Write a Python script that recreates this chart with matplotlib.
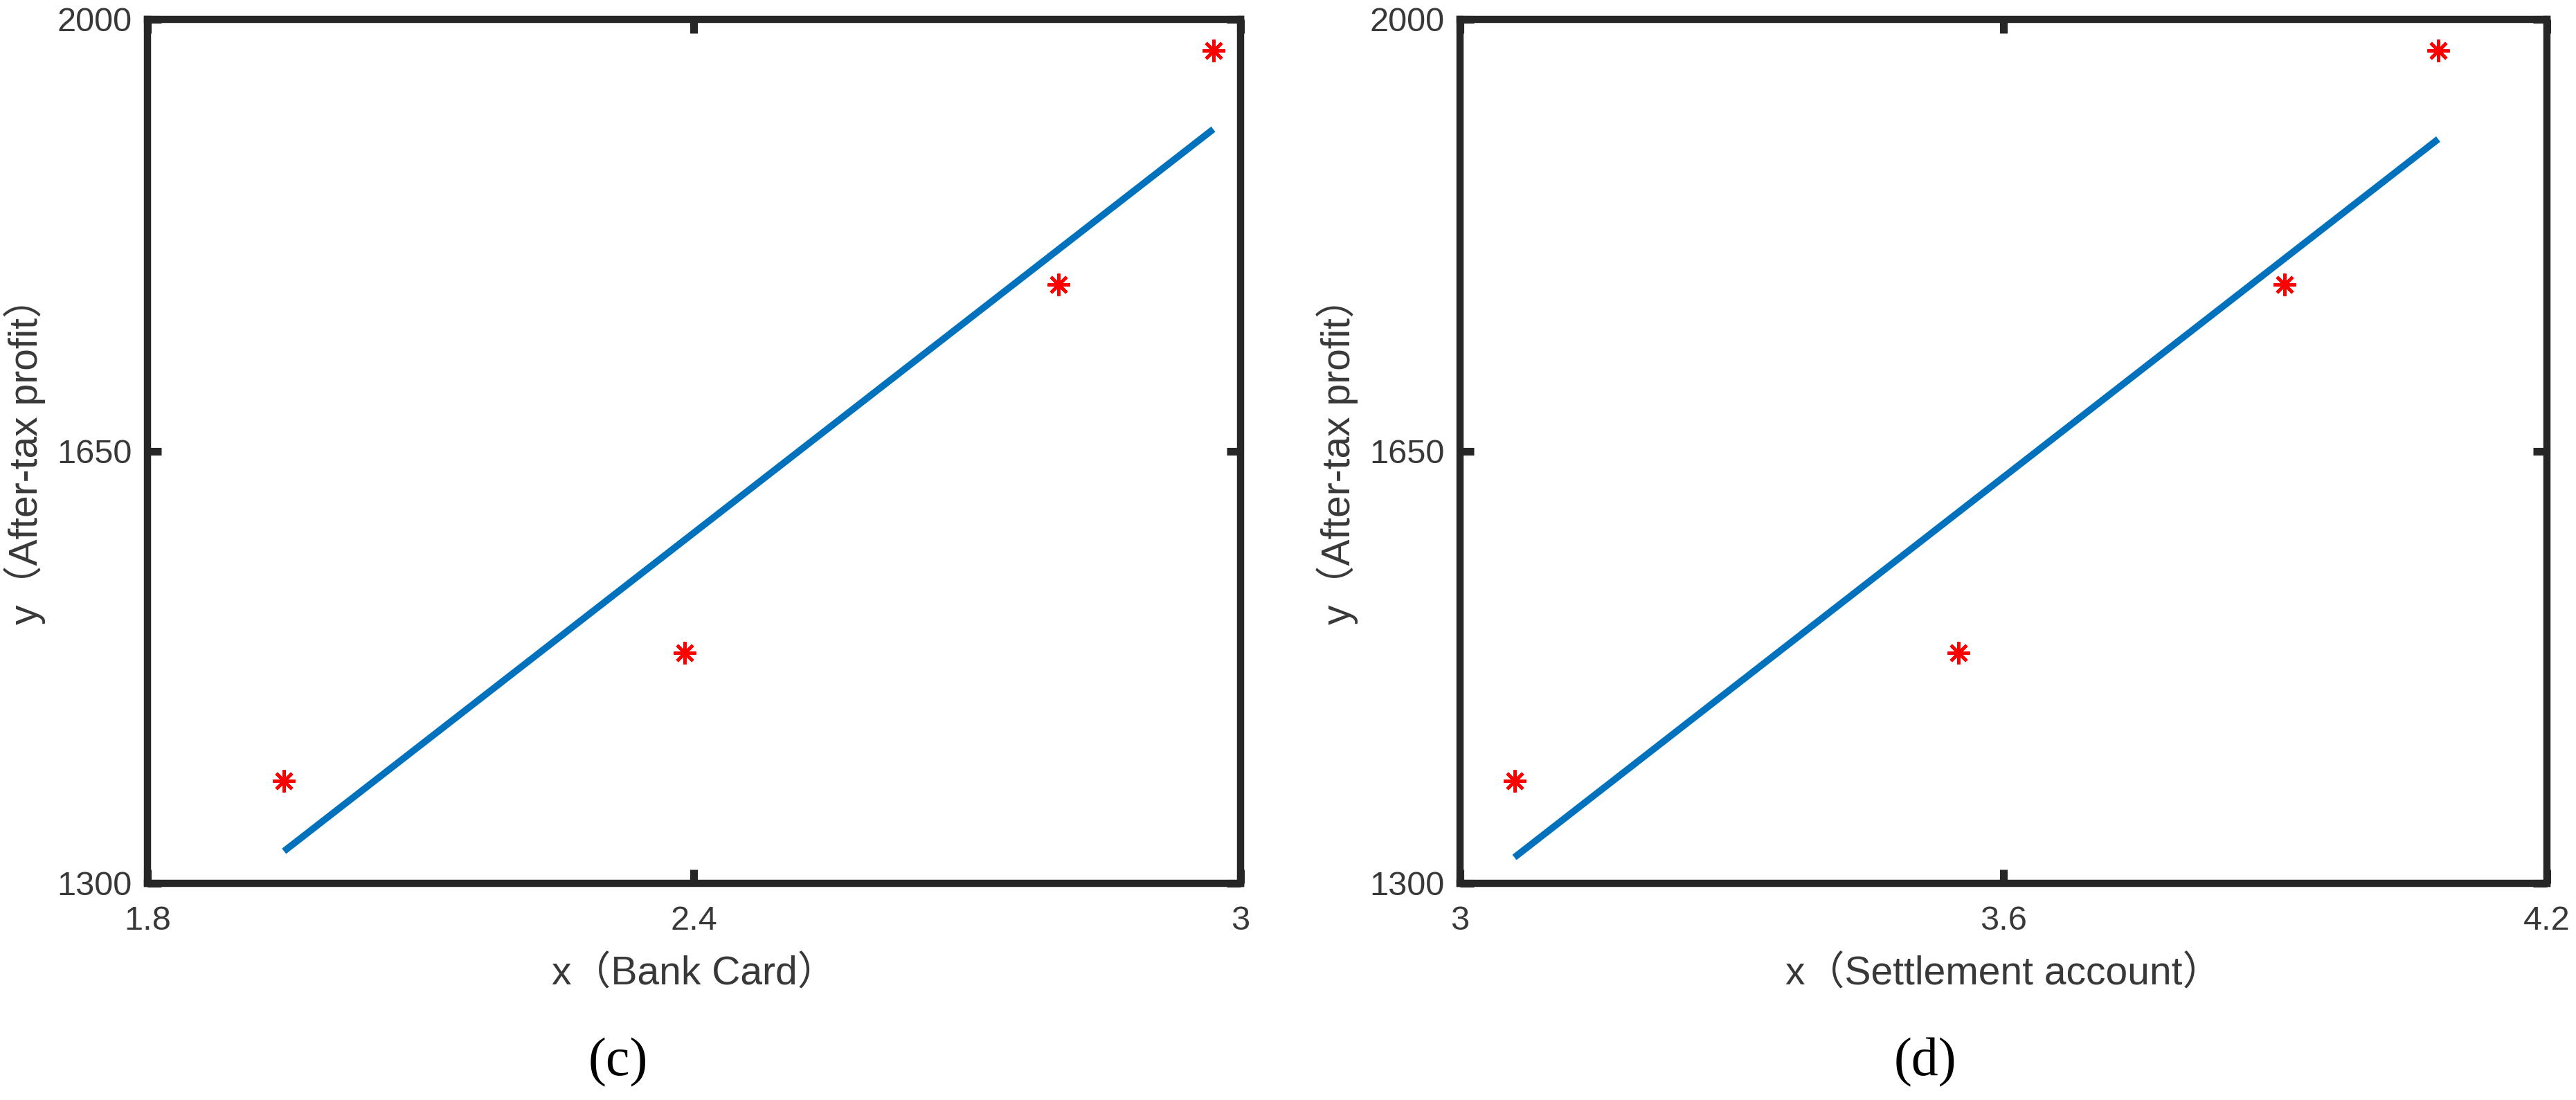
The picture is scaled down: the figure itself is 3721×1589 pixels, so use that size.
import matplotlib
matplotlib.use("Agg")
import matplotlib.pyplot as plt

# Data
bank_card_x = [1.95, 2.39, 2.80, 2.97]
settlement_x = [3.06, 3.55, 3.91, 4.08]
profit_y = [1383, 1487, 1785, 1975]

# fitted line end points (as drawn in the figure)
bank_fit_y = [1326, 1911]
settle_fit_y = [1321, 1903]

bank_xticks = [1.8, 2.4, 3]
bank_xticklabels = ["1.8", "2.4", "3"]
settle_xticks = [3.0, 3.6, 4.2]
settle_xticklabels = ["3", "3.6", "4.2"]
yticks = [1300, 1650, 2000]

panel_xlabels = ["x（Bank Card）", "x（Settlement account）"]
ylabel = "y（After-tax profit）"
panel_tags = ["(c)", "(d)"]

sans = ["Liberation Sans", "Noto Sans CJK SC"]
axis_col = "#262626"
text_col = "#383838"

fig = plt.figure(figsize=(37.21, 15.89), dpi=100)

ax_pos = [[0.0572, 0.1970, 0.4244, 0.7854],
          [0.5668, 0.1970, 0.4219, 0.7854]]


def draw_panel(ax, xs, fit_y, xticks, xticklabels, xlim, xlabel):
    ax.plot([xs[0], xs[-1]], fit_y, color="#0072BD", lw=7,
            solid_capstyle="butt", zorder=2)
    ax.plot(xs, profit_y, linestyle="none", marker=(8, 2, 0),
            markersize=23, markeredgewidth=3.4, color="red", zorder=3)
    ax.set_xlim(xlim)
    ax.set_ylim(1300, 2000)
    ax.set_xticks(xticks)
    ax.set_xticklabels(xticklabels)
    ax.set_yticks(yticks)
    for sp in ax.spines.values():
        sp.set_linewidth(7.5)
        sp.set_color(axis_col)
    ax.tick_params(direction="in", length=14.5, width=8, color=axis_col,
                   top=True, right=True, labelsize=35, labelcolor=text_col)
    ax.tick_params(axis="x", pad=23)
    ax.tick_params(axis="y", pad=16)
    for lab in ax.get_xticklabels() + ax.get_yticklabels():
        lab.set_family(sans)
    ax.set_xlabel(xlabel, fontsize=41, family=sans, color=text_col, labelpad=20)
    ax.set_ylabel(ylabel, fontsize=41, family=sans, color=text_col, labelpad=12)


ax1 = fig.add_axes(ax_pos[0])
draw_panel(ax1, bank_card_x, bank_fit_y, bank_xticks, bank_xticklabels,
           (1.8, 3.0), panel_xlabels[0])

ax2 = fig.add_axes(ax_pos[1])
draw_panel(ax2, settlement_x, settle_fit_y, settle_xticks, settle_xticklabels,
           (3.0, 4.2), panel_xlabels[1])

fig.text(0.240, 0.034, panel_tags[0], ha="center", va="center",
         fontsize=56, family="Liberation Serif", color="black")
fig.text(0.7474, 0.034, panel_tags[1], ha="center", va="center",
         fontsize=56, family="Liberation Serif", color="black")

fig.savefig("out.png", dpi=100, facecolor="white")
